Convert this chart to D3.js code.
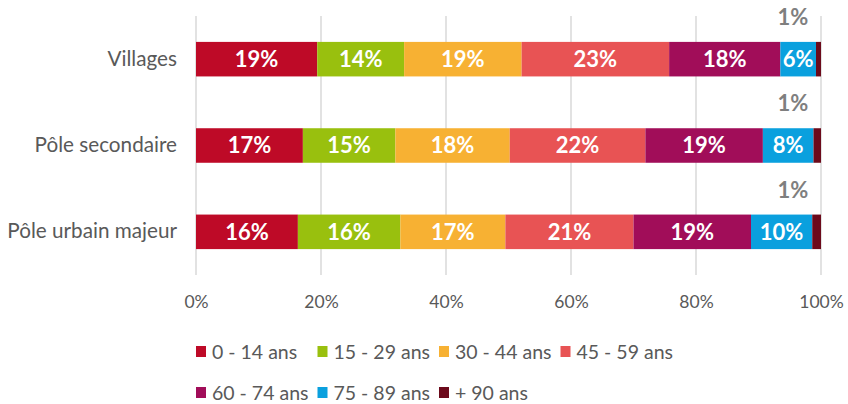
<!DOCTYPE html>
<html>
<head>
<meta charset="utf-8">
<script src="https://cdn.jsdelivr.net/npm/d3@7"></script>
<style>
  body { margin: 0; background: #fff; }
  svg { font-family: Lato, "Liberation Sans", sans-serif; }
</style>
</head>
<body>
<svg id="chart" width="848" height="404"></svg>
<script>
// categories, top to bottom
var categories = ["Villages", "Pôle secondaire", "Pôle urbain majeur"];
var ageGroups = ["0 - 14 ans", "15 - 29 ans", "30 - 44 ans", "45 - 59 ans", "60 - 74 ans", "75 - 89 ans", "+ 90 ans"];
var colors = ["#BE0A27", "#99C00E", "#F7B133", "#E85354", "#A10D59", "#0AA0DE", "#6C0A1B"];

// shares in % per category (same order as ageGroups)
var villages = [19.4, 13.9, 18.8, 23.6, 17.8, 5.7, 0.8];
var poleSecondaire = [17.1, 14.8, 18.3, 21.7, 18.8, 8.1, 1.2];
var poleUrbain = [16.3, 16.4, 16.8, 20.5, 18.8, 9.8, 1.4];
// labels as printed on the chart
var labelsVillages = ["19%", "14%", "19%", "23%", "18%", "6%", "1%"];
var labelsSecondaire = ["17%", "15%", "18%", "22%", "19%", "8%", "1%"];
var labelsUrbain = ["16%", "16%", "17%", "21%", "19%", "10%", "1%"];
var tickValues = [0, 20, 40, 60, 80, 100];

var series = [villages, poleSecondaire, poleUrbain];
var labels = [labelsVillages, labelsSecondaire, labelsUrbain];

var rows = categories.map(function (c, i) {
    var row = { cat: c };
    ageGroups.forEach(function (g, j) { row[g] = series[i][j]; row["lbl" + j] = labels[i][j]; });
    return row;
});

var svg = d3.select("#chart");
var textGrey = "#595959";

var x = d3.scaleLinear().domain([0, 100]).range([196, 821]);
var y = d3.scaleBand().domain(categories).range([16, 275]).paddingInner(0.6).paddingOuter(0.3);

// gridlines
svg.append("g").selectAll("line")
    .data(tickValues)
    .enter().append("line")
    .attr("x1", function (d) { return x(d); })
    .attr("x2", function (d) { return x(d); })
    .attr("y1", 16)
    .attr("y2", 275)
    .attr("stroke", "#D9D9D9")
    .attr("stroke-width", 1.5);

// x axis labels
var xAxis = d3.axisBottom(x).tickValues(tickValues).tickSize(0).tickPadding(0)
    .tickFormat(function (d) { return d + "%"; });
var gx = svg.append("g").attr("transform", "translate(0,302)").call(xAxis);
gx.select(".domain").remove();
gx.selectAll("text")
    .attr("dy", "0.35em")
    .attr("y", 0)
    .style("font-family", "Lato, sans-serif")
    .style("font-size", "17.5px")
    .attr("fill", textGrey);

// category labels
var yAxis = d3.axisLeft(y).tickSize(0).tickPadding(0);
var gy = svg.append("g").attr("transform", "translate(" + (x(0) - 19) + ",0)").call(yAxis);
gy.select(".domain").remove();
gy.selectAll("text")
    .style("font-family", "Lato, sans-serif")
    .style("font-size", "20.7px")
    .attr("fill", textGrey);

// stacked bars
var stack = d3.stack().keys(ageGroups);
var layers = stack(rows);

var groups = svg.append("g").selectAll("g")
    .data(layers)
    .enter().append("g")
    .attr("fill", function (d, i) { return colors[i]; });

groups.selectAll("rect")
    .data(function (d) { return d; })
    .enter().append("rect")
    .attr("x", function (d) { return x(d[0]); })
    .attr("width", function (d) { return x(d[1]) - x(d[0]); })
    .attr("y", function (d) { return y(d.data.cat); })
    .attr("height", y.bandwidth());

// value labels
layers.forEach(function (layer, j) {
    var last = j === ageGroups.length - 1;
    svg.append("g").selectAll("text")
        .data(layer)
        .enter().append("text")
        .attr("x", function (d) { return last ? x(100) - 28 : (x(d[0]) + x(d[1])) / 2; })
        .attr("y", function (d) { return y(d.data.cat) + y.bandwidth() / 2 + (last ? -42 : 0); })
        .attr("dy", "0.36em")
        .attr("text-anchor", "middle")
        .style("font-size", "22px")
        .style("font-weight", "bold")
        .attr("fill", last ? "#7F7F7F" : "#fff")
        .text(function (d) { return d.data["lbl" + j]; });
});

// legend
var legend = svg.append("g").selectAll("g")
    .data(ageGroups)
    .enter().append("g")
    .attr("transform", function (d, i) {
        return "translate(" + (196 + (i % 4) * 121.5) + "," + (i < 4 ? 352 : 393) + ")";
    });
legend.append("rect")
    .attr("x", 0).attr("y", -6)
    .attr("width", 10).attr("height", 11)
    .attr("fill", function (d, i) { return colors[i]; });
legend.append("text")
    .attr("x", 16).attr("y", 0)
    .attr("dy", "0.35em")
    .style("font-size", "19.5px")
    .attr("fill", textGrey)
    .text(function (d) { return d; });
</script>
</body>
</html>
